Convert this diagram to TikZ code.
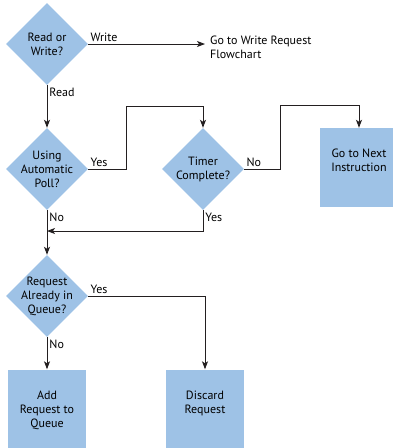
\documentclass[tikz,border=0pt]{standalone}
\usepackage{fontspec}
\setmainfont{PT Sans}
\usepackage{tikz}
\usetikzlibrary{arrows.meta,positioning,shapes.geometric}
\definecolor{flowblue}{RGB}{158,194,230}
\definecolor{flowline}{RGB}{35,31,32}

\begin{document}
\begin{tikzpicture}[
  x=1pt, y=-1pt,
  font=\fontsize{12}{14}\selectfont,
  decision/.style={diamond, fill=flowblue, minimum size=82pt, inner sep=0pt, label={[align=center, anchor=center]center:#1}},
  action/.style={rectangle, fill=flowblue, minimum width=78pt, minimum height=79pt, inner sep=0pt, label={[align=center, anchor=north, yshift=-18pt]north:#1}},
  note/.style={align=left, inner ysep=0pt, inner xsep=5pt},
  tag/.style={inner sep=2pt},
  arrow/.style={-{Stealth[length=8pt, width=6pt, inset=2pt]}, line width=0.9pt, draw=flowline}
]
\useasboundingbox (0,0) rectangle (393,448);

\node[decision={Read or\\Write?}] (rw) at (47,44) {};
\node[note, anchor=west] (wreq) at (205,47) {Go to Write Request\\Flowchart};
\node[decision={Using\\Automatic\\Poll?}] (poll) at (47,169) {};
\node[decision={Timer\\Complete?}] (timer) at (203,169) {};
\node[action={Go to Next\\Instruction}] (next) at (359,167.5) {};
\node[decision={Request\\Already in\\Queue?}] (queue) at (47,296) {};
\node[action={Add\\Request to\\Queue}] (add) at (47,409) {};
\node[action={Discard\\Request}] (discard) at (205,409) {};
\coordinate (join) at (47,231);

\draw[arrow] (rw.east) -- node[tag, pos=0, anchor=south west] (lwrite) {Write} (rw.east -| wreq.west);
\draw[arrow] (rw.south) -- node[tag, pos=0, anchor=north west] (lread) {Read} (poll.north);
\draw[arrow] (poll.east) -- node[tag, pos=0, anchor=south west] (lpollyes) {Yes} ++(38,0) -- ++(0,-63) -| (timer.north);
\draw[arrow] (timer.east) -- node[tag, pos=0, anchor=south west] (ltimerno) {No} ++(36,0) -- ++(0,-64) -| (next.north);
\draw[arrow] (timer.south) |- node[tag, pos=0, anchor=north west] (ltimeryes) {Yes} (join);
\draw[arrow] (poll.south) -- node[tag, pos=0, anchor=north west] (lpollno) {No} (queue.north);
\draw[arrow] (queue.east) -| node[tag, pos=0, anchor=south west] (lqueueyes) {Yes} (discard.north);
\draw[arrow] (queue.south) -- node[tag, pos=0, anchor=north west] (lqueueno) {No} (add.north);
\end{tikzpicture}
\end{document}
